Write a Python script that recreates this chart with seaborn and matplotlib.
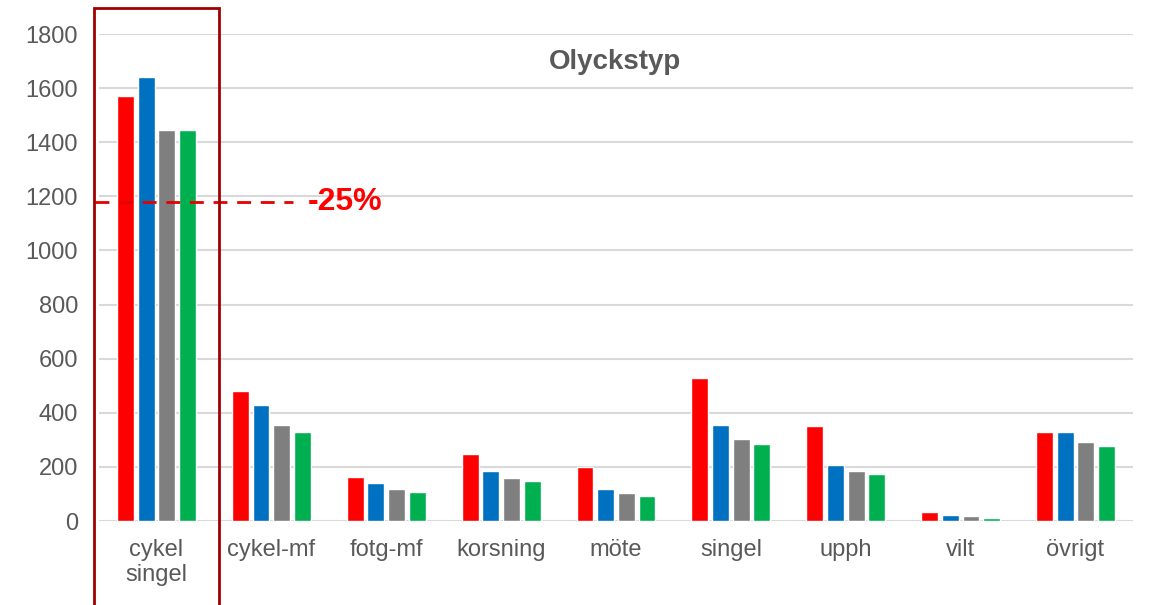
"""
Olyckstyp - stapeldiagram per olyckstyp, fyra serier
"""
import numpy as np
import pandas as pd
import matplotlib
matplotlib.use("Agg")
import matplotlib.pyplot as plt
from matplotlib.patches import Rectangle
import seaborn as sns

# ── data ──
categories = ["cykel\nsingel", "cykel-mf", "fotg-mf", "korsning", "möte",
              "singel", "upph", "vilt", "övrigt"]
series_names = ["serie 1", "serie 2", "serie 3", "serie 4"]
serie_1 = [1572, 479, 161, 248, 198, 528, 351, 33, 330]
serie_2 = [1641, 429, 139, 186, 117, 354, 206, 21, 330]
serie_3 = [1447, 354, 117, 158, 103, 304, 184, 17, 292]
serie_4 = [1447, 330, 106, 148, 91, 285, 173, 12, 276]
y_ticks = [0, 200, 400, 600, 800, 1000, 1200, 1400, 1600, 1800]
reduction = 0.25  # -25 % av första stapeln

colors = ["#FF0000", "#0070C0", "#7F7F7F", "#00B050"]
text_gray = "#595959"

df = pd.DataFrame({
    "typ": categories * 4,
    "serie": np.repeat(series_names, len(categories)),
    "antal": serie_1 + serie_2 + serie_3 + serie_4,
})

sns.set_theme(style="white")
plt.rcParams["font.family"] = ["Liberation Sans", "DejaVu Sans"]

fig = plt.figure(figsize=(11.5, 6.05), dpi=100)
ax = fig.add_axes([0.0861, 0.1388, 0.8991, 0.805])

sns.barplot(data=df, x="typ", y="antal", hue="serie", palette=colors,
            saturation=1, width=0.72, gap=0.18, legend=False, ax=ax,
            zorder=3)

ax.set_ylim(0, 1800)
ax.set_xlim(-0.5, len(categories) - 0.5)
ax.set_yticks(y_ticks)
ax.yaxis.grid(True, color="#D9D9D9", linewidth=1.5, zorder=0)
ax.set_axisbelow(True)
for s in ax.spines.values():
    s.set_visible(False)
ax.set_xlabel("")
ax.set_ylabel("")
ax.tick_params(axis="both", length=0, labelsize=17, labelcolor=text_gray)
ax.tick_params(axis="x", pad=13)
ax.tick_params(axis="y", pad=15)

# titel inne i diagramytan
ax.text(0.499, 0.942, "Olyckstyp", transform=ax.transAxes, ha="center",
        va="center", fontsize=20, fontweight="bold", color=text_gray)

# målnivå -25 %
target = serie_1[0] * (1 - reduction)
ax.plot([-0.535, 1.187], [target, target], color="#E60000", linewidth=2,
        linestyle=(0, (5, 3.5)), zorder=4, clip_on=False)
ax.text(1.317, target, f"-{int(reduction * 100)}%", color="#FF0000",
        fontsize=23, fontweight="bold", ha="left", va="center")

# ram runt cykel singel
ax.add_patch(Rectangle((-0.543, -330), 1.086, 1896 + 330, fill=False,
                       edgecolor="#A00000", linewidth=2, clip_on=False,
                       zorder=5))

plt.savefig("out.png", dpi=100)
plt.close()
